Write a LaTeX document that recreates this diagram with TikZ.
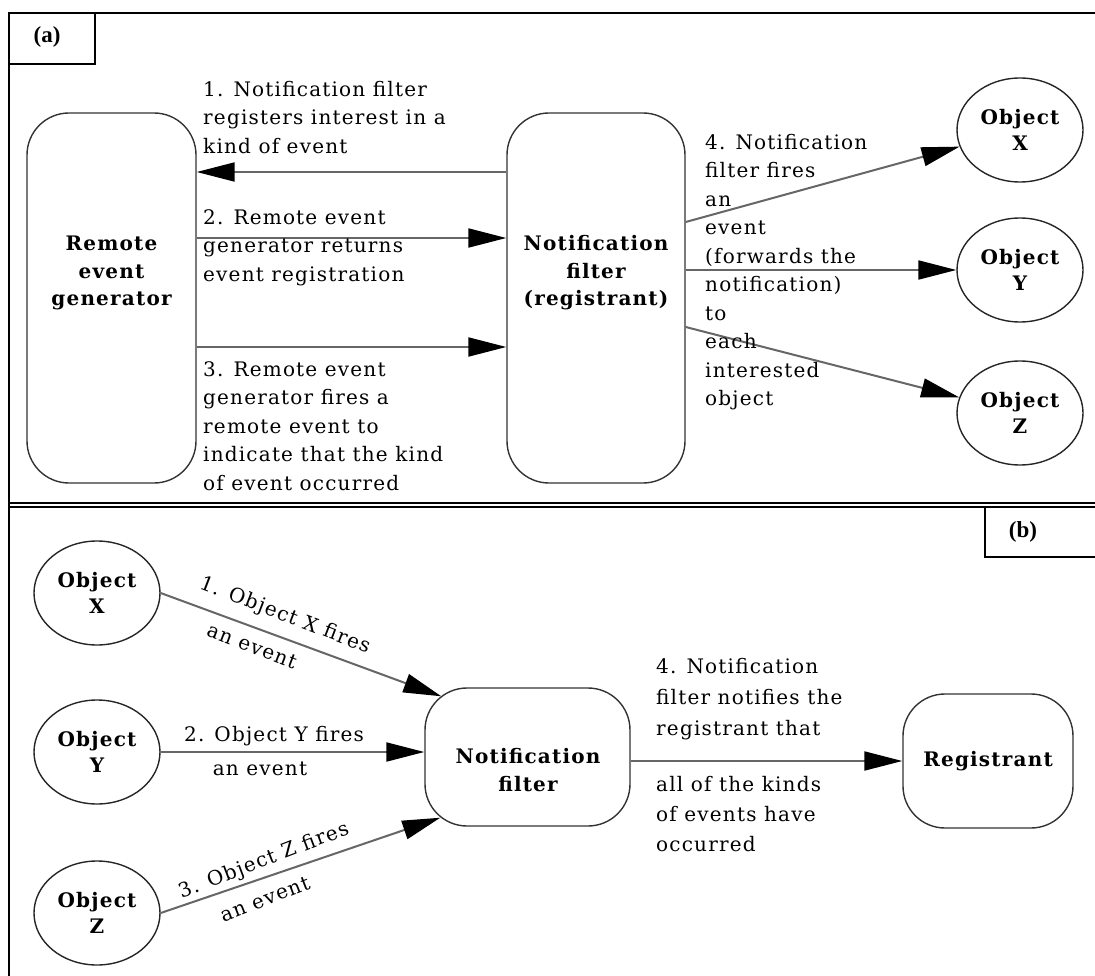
\documentclass[tikz,border=0pt]{standalone}
\usepackage{fontspec}
\setmainfont{DejaVu Serif}[LetterSpace=6]
\newfontfamily\tagfont{Liberation Serif}
\usetikzlibrary{arrows.meta,shapes.geometric,calc}
\begin{document}
\begin{tikzpicture}[x=1pt,y=-1pt,
  every node/.style={inner sep=0pt},
  txt/.style={font=\fontsize{20}{28.5}\selectfont},
  lbl/.style={txt, align=left, anchor=north west},
  nametext/.style={font=\fontsize{20}{27.5}\selectfont\bfseries, align=center},
  roundbox/.style={draw=black!80, line width=1.4pt, rounded corners=42pt},
  obj/.style={draw=black!85, line width=1.4pt, ellipse, minimum width=126pt,
    minimum height=104pt, align=center, font=\fontsize{20}{26}\selectfont\bfseries},
  conn/.style={draw=black!60, line width=2pt,
    -{Triangle[length=38pt,width=19pt,color=black]}},
  panelline/.style={draw=black, line width=1.5pt},
  tagtext/.style={font=\tagfont\fontsize{23}{26}\selectfont\bfseries}
]
\useasboundingbox (0,0) rectangle (1095,976);

% ---- outer frame and panel tags ----
\draw[panelline] (9,976) -- (9,13) -- (1095,13);
\draw[panelline] (9,64) -- (95,64) -- (95,13);
\node[tagtext] (ta) at (47,37) {(a)};
\draw[panelline] (9,503) -- (1095,503);
\draw[panelline] (9,507) -- (1095,507);
\draw[panelline] (985,507) -- (985,557) -- (1095,557);
\node[tagtext] (tb) at (1023,532) {(b)};

% ---- panel (a): registration and forwarding ----
\node[roundbox, minimum width=169pt, minimum height=370pt] (reg) at (111.5,298) {};
\node[nametext] (regtxt) at (111.5,273) {Remote\\event\\generator};
\node[roundbox, minimum width=178pt, minimum height=370pt] (nf) at (596,298) {};
\node[nametext] (nftxt) at (596,273) {Notification\\filter\\(registrant)};
\node[obj] (ox) at (1020,130) {Object\\X};
\node[obj] (oy) at (1020,270) {Object\\Y};
\node[obj] (oz) at (1020,413) {Object\\Z};

\draw[conn] ($(nf.west)+(0,-126)$) -- ($(reg.east)+(0,-126)$);
\draw[conn] ($(reg.east)+(0,-60)$) -- ($(nf.west)+(0,-60)$);
\draw[conn] ($(reg.east)+(0,49)$) -- ($(nf.west)+(0,49)$);
\draw[conn] ($(nf.east)+(0,-76)$) -- (ox);
\draw[conn] ($(nf.east)+(0,-28)$) -- (oy.west);
\draw[conn] ($(nf.east)+(0,29)$) -- (oz);

\node[lbl] (l1) at (203,81) {1. Notification filter\\registers interest in a\\kind of event};
\node[lbl] (l2) at (203,209) {2. Remote event\\generator returns\\event registration};
\node[lbl] (l3) at (203,361) {3. Remote event\\generator fires a\\remote event to\\indicate that the kind\\of event occurred};
\node[lbl] (l4) at (705,134) {4. Notification\\filter fires\\an\\event\\(forwards the\\notification)\\to\\each\\interested\\object};

% ---- panel (b): composite notification ----
\node[obj] (bx) at (97,593) {Object\\X};
\node[obj] (by) at (97,752) {Object\\Y};
\node[obj] (bz) at (97,913) {Object\\Z};
\node[roundbox, minimum width=205pt, minimum height=138pt] (nfb) at (527.5,757) {};
\node[nametext] (nfbtxt) at (528,770) {Notification\\filter};
\node[roundbox, nametext, minimum width=170pt, minimum height=134pt] (rg) at (988,761) {Registrant};

\draw[conn] (bx.east) -- ($(nfb.north west)+(17,9)$);
\draw[conn] (by.east) -- (by.east -| nfb.west);
\draw[conn] (bz.east) -- ($(nfb.south west)+(16,-9)$);
\draw[conn] (nfb.east |- rg.west) -- (rg.west);

\node[txt, rotate=-21] (l1b) at (285,616) {1. Object X fires};
\node[txt, rotate=-21] (l1c) at (252,646) {an event};
\node[txt] (l2b) at (274,736) {2. Object Y fires};
\node[txt] (l2c) at (260,769) {an event};
\node[txt, rotate=21] (l3b) at (264,861) {3. Object Z fires};
\node[txt, rotate=21] (l3c) at (265,899) {an event};

\node[lbl, font=\fontsize{20}{31}\selectfont] (l4b) at (656,658) {4. Notification\\filter notifies the\\registrant that};
\node[lbl, font=\fontsize{20}{30}\selectfont] (l4c) at (656,776) {all of the kinds\\of events have\\occurred};
\end{tikzpicture}
\end{document}
